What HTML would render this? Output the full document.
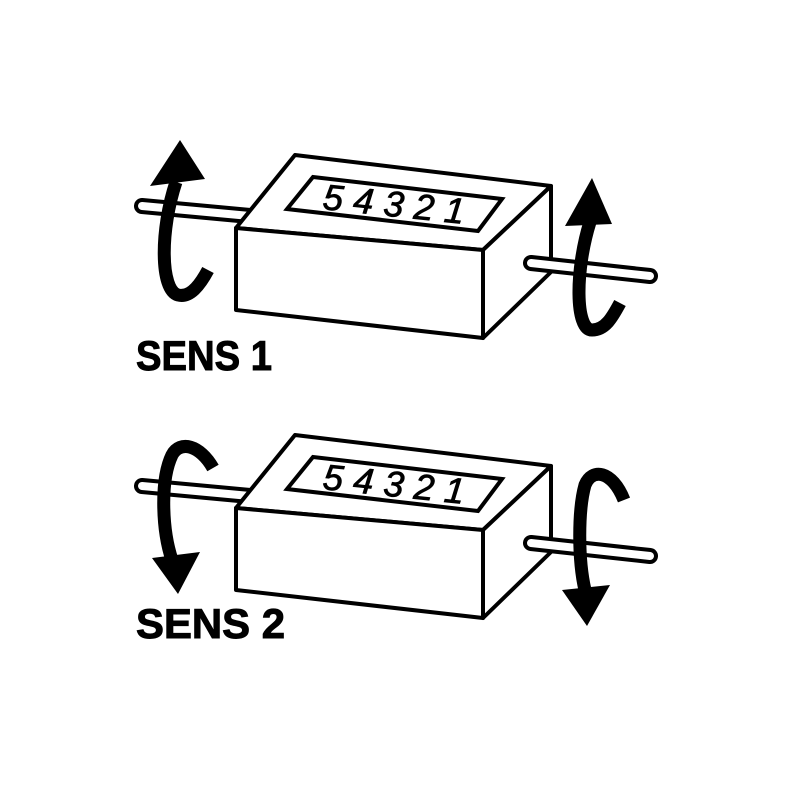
<!DOCTYPE html>
<html><head><style>html,body{margin:0;padding:0;background:#fff;}svg{display:block}</style></head>
<body>
<svg width="800" height="800" viewBox="0 0 800 800" xmlns="http://www.w3.org/2000/svg">
<defs>
<g id="box">
  <line x1="142" y1="206" x2="250" y2="216" stroke="#000" stroke-width="16" stroke-linecap="round"/>
  <line x1="142" y1="206" x2="250" y2="216" stroke="#fff" stroke-width="8" stroke-linecap="round"/>
  <polygon points="295,155 551,186 483,250 236,228" fill="#fff" stroke="#000" stroke-width="4" stroke-linejoin="round"/>
  <polygon points="236,228 483,250 483,338 236,310" fill="#fff" stroke="#000" stroke-width="4" stroke-linejoin="round"/>
  <polygon points="483,250 551,186 551,272 483,338" fill="#fff" stroke="#000" stroke-width="4" stroke-linejoin="round"/>
  <polygon points="313,177 502,199 478,231 287,209" fill="#fff" stroke="#000" stroke-width="4"/>
  <text x="0" y="0" font-family="Liberation Sans, sans-serif" font-size="36" font-style="italic" stroke="#000" stroke-width="0.8" transform="translate(322,209) rotate(6)" textLength="142" lengthAdjust="spacing">54321</text>
  <line x1="531" y1="263" x2="650" y2="276" stroke="#000" stroke-width="16" stroke-linecap="round"/>
  <line x1="531" y1="263" x2="650" y2="276" stroke="#fff" stroke-width="8" stroke-linecap="round"/>
</g>
</defs>
<use href="#box"/>
<use href="#box" transform="translate(0,280)"/>
<g fill="none" stroke="#000" stroke-width="13">
  <path d="M176,182 C160,230 160,290 178,295 C190,298 200,285 208,270"/>
  <path d="M590,222 C575,270 575,330 592,330 C605,330 612,318 620,303"/>
  <path d="M213,468 C200,445 180,440 172,455 C160,480 162,530 172,560"/>
  <path d="M624,500 C612,470 592,468 585,485 C578,510 578,560 585,590"/>
</g>
<g fill="#000">
  <polygon points="180,140 150,186 205,179"/>
  <polygon points="592,178 565,226 612,224"/>
  <polygon points="178,594 152,558 200,552"/>
  <polygon points="587,626 562,590 610,585"/>
</g>
<g font-family="Liberation Sans, sans-serif" font-weight="bold" font-size="42" fill="#000" stroke="#000" stroke-width="1">
  <text x="136" y="370" textLength="136" lengthAdjust="spacingAndGlyphs">SENS 1</text>
  <text x="136" y="638" textLength="149" lengthAdjust="spacingAndGlyphs">SENS 2</text>
</g>
</svg>
</body></html>
